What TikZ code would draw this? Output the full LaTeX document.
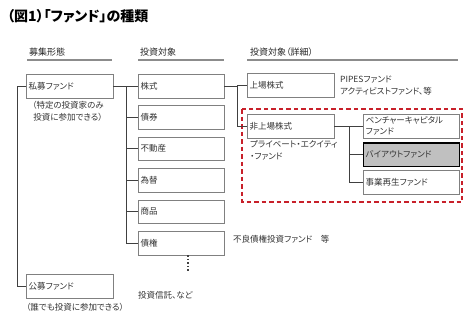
\documentclass[tikz,border=0pt]{standalone}
\usepackage{fontspec}
\setmainfont[RawFeature=+palt]{Noto Sans CJK JP}
\usetikzlibrary{positioning}
\definecolor{boxgray}{HTML}{808080}
\definecolor{linegray}{HTML}{404040}
\definecolor{fundred}{HTML}{C8202A}
\definecolor{buyoutgray}{HTML}{C0C0C0}

\begin{document}
\begin{tikzpicture}[x=1pt, y=-1pt,
    fund/.style={draw=boxgray, fill=white, anchor=north west, minimum height=23.5pt,
      text width=82pt, inner xsep=2.5pt, inner ysep=1pt, align=left,
      font=\fontsize{8.5}{11}\selectfont, text=black!80},
    asset/.style={fund, text width=81pt},
    wide/.style={fund, text width=91pt},
    note/.style={anchor=west, inner sep=0pt, align=left, font=\fontsize{8.5}{12}\selectfont, text=black!80},
    head/.style={anchor=west, inner sep=0pt, font=\fontsize{9}{10}\selectfont, text=black!85},
    rule/.style={draw=black!45, line width=1.4pt},
    link/.style={draw=linegray, line width=0.6pt}
  ]
  \useasboundingbox (0,0) rectangle (468,324);

  % title
  \node[anchor=west, inner sep=0pt, font=\fontsize{14}{16}\selectfont\bfseries] (title) at (7,16)
    {（図1）「ファンド」の種類};

  % column heads
  \node[head] (hform) at (29,52) {募集形態};
  \node[head] (hasset) at (140,52) {投資対象};
  \node[head] (hdetail) at (250,52) {投資対象（詳細）};
  \draw[rule] (27,60) -- (112,60);
  \draw[rule] (138,60) -- (224,60);
  \draw[rule] (247,60) -- (458,60);

  % how the fund is offered
  \node[fund] (shibo) at (26,74) {私募ファンド};
  \node[fund] (kobo) at (26,274) {公募ファンド};
  \node[note, align=center, anchor=north] (shibonote) at (68,101) {（特定の投資家のみ\\投資に参加できる）};
  \node[note] (kobonote) at (26,307) {（誰でも投資に参加できる）};

  % what it invests in
  \node[asset] (kabu) at (138,74) {株式};
  \node[asset, below=7.5pt of kabu] (saiken) {債券};
  \node[asset, below=7.5pt of saiken] (fudosan) {不動産};
  \node[asset, below=7.5pt of fudosan] (kawase) {為替};
  \node[asset, below=7.5pt of kawase] (shohin) {商品};
  \node[asset, below=7.5pt of shohin] (saiken2) {債権};
  \draw[linegray, line width=1.6pt, dotted] (188,255) -- (188,271);
  \node[note] (toshin) at (138,295) {投資信託、など};
  \node[note] (furyo) at (233,239) {不良債権投資ファンド　等};

  % details
  \node[fund] (jojo) at (247,73) {上場株式};
  \node[note] (pipes) at (340,86) {PIPESファンド\\アクティビストファンド、等};
  \node[fund] (hijojo) at (247,114) {非上場株式};
  \node[note, anchor=north west] (penote) at (250,140) {プライベート・エクイティ\\・ファンド};
  \node[wide, minimum height=24pt] (venture) at (363,114) {ベンチャーキャピタル\\ファンド};
  \node[wide, below=4pt of venture, fill=buyoutgray, draw=black, line width=1.1pt] (buyout) {バイアウトファンド};
  \node[wide, below=3pt of buyout] (saisei) {事業再生ファンド};

  % private equity frame
  \draw[fundred, line width=1.2pt, dash pattern=on 4.5pt off 3pt] (242,109) rectangle (462,202);

  % connectors
  \draw[link] (shibo.west) -- ++(-9,0) coordinate (formtrunk) |- (kobo.west);
  \draw[link] (shibo.east) -- ++(13,0) coordinate (assettrunk) |- (saiken2.west);
  \draw[link] (assettrunk) -- (kabu.west);
  \draw[link] (assettrunk |- saiken.west) -- (saiken.west);
  \draw[link] (assettrunk |- fudosan.west) -- (fudosan.west);
  \draw[link] (assettrunk |- kawase.west) -- (kawase.west);
  \draw[link] (assettrunk |- shohin.west) -- (shohin.west);
  \draw[link] (kabu.east) -- ++(13,0) coordinate (stocktrunk) |- (hijojo.west);
  \draw[link] (stocktrunk |- jojo.west) -- (jojo.west);
  \draw[link] (hijojo.east) -- ++(15,0) coordinate (petrunk) |- (saisei.west);
  \draw[link] (petrunk) -- (venture.west |- petrunk);
  \draw[link] (petrunk |- buyout.west) -- (buyout.west);
\end{tikzpicture}
\end{document}
